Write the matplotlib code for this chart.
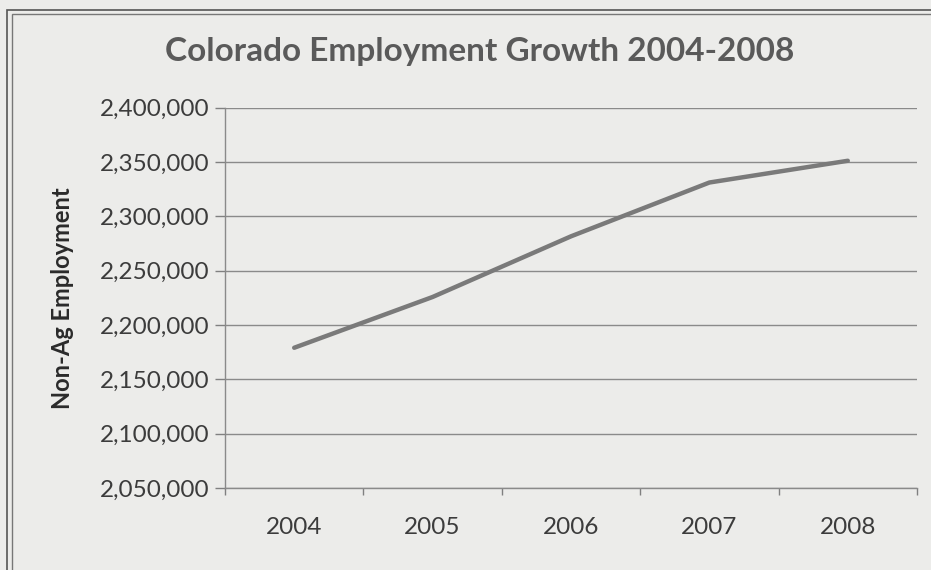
import matplotlib
matplotlib.use("Agg")
import matplotlib.pyplot as plt
from matplotlib.patches import Rectangle
from matplotlib.ticker import FuncFormatter, FixedLocator

# Data
years = ["2004", "2005", "2006", "2007", "2008"]
employment = [2179000, 2225700, 2281500, 2331000, 2351000]

paper = "#ececea"
text_col = "#3c3c3c"

plt.rcParams["font.family"] = ["Lato", "DejaVu Sans"]

fig = plt.figure(figsize=(9.31, 5.70), dpi=100, facecolor=paper)
ax = fig.add_axes([225 / 931, 1 - 488 / 570, (917 - 225) / 931, (488 - 107.5) / 570])
ax.set_facecolor(paper)

positions = list(range(len(years)))
ax.plot(positions, employment, color="#7a7a7a", linewidth=3.2, solid_capstyle="round", zorder=3)

# Axes limits and ticks (Excel-like category axis)
ax.set_xlim(-0.5, len(years) - 0.5)
ax.set_ylim(2050000, 2400000)
ax.yaxis.set_major_locator(FixedLocator(range(2050000, 2400001, 50000)))
ax.yaxis.set_major_formatter(FuncFormatter(lambda v, p: f"{int(v):,}"))
ax.set_xticks([p - 0.5 for p in positions] + [len(years) - 0.5])
ax.set_xticklabels([])
ax.set_xticks(positions, minor=True)
ax.set_xticklabels(years, minor=True)
ax.tick_params(axis="x", which="major", length=5, width=1, color="#808080", direction="out")
ax.tick_params(axis="x", which="minor", length=0, pad=21, labelsize=17.5, labelcolor=text_col)
ax.tick_params(axis="y", length=7, width=1, color="#808080", direction="out", pad=4,
               labelsize=17.5, labelcolor=text_col)

ax.grid(True, axis="y", color="#8a8a8a", linewidth=1)
ax.set_axisbelow(True)
for side in ["top", "right"]:
    ax.spines[side].set_visible(False)
for side in ["left", "bottom"]:
    ax.spines[side].set_color("#8a8a8a")
    ax.spines[side].set_linewidth(1)

# Title and axis label
fig.text(480 / 931, 1 - 52 / 570, "Colorado Employment Growth 2004-2008", ha="center", va="center",
         fontsize=24, fontweight="bold", color="#5a5a5a")
fig.text(63 / 931, 1 - 298 / 570, "Non-Ag Employment", ha="center", va="center", rotation=90,
         fontsize=17, fontweight="bold", color="#2a2a2a")

# Chart frame (double border at left and top)
fig.patches.append(Rectangle((7 / 931, -0.1), 1.2, 1.1 - 10 / 570, transform=fig.transFigure,
                             fill=False, edgecolor="#555555", linewidth=1.2))
fig.patches.append(Rectangle((12 / 931, -0.1), 1.2, 1.1 - 14 / 570, transform=fig.transFigure,
                             fill=False, edgecolor="#777777", linewidth=1.0))

fig.savefig("out.png", dpi=100, facecolor=paper)
